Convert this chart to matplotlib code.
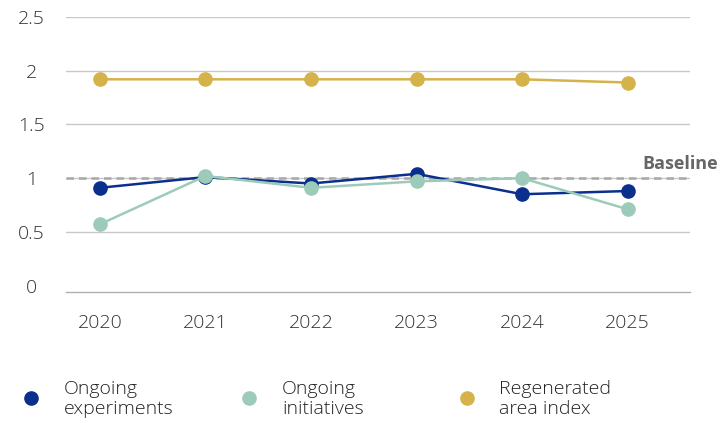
import matplotlib
matplotlib.use("Agg")
import matplotlib.pyplot as plt
from matplotlib.lines import Line2D

years = ["2020", "2021", "2022", "2023", "2024", "2025"]
experiments = [0.91, 1.01, 0.95, 1.04, 0.85, 0.88]
initiatives = [0.57, 1.02, 0.91, 0.97, 1.00, 0.71]
regenerated = [1.92, 1.92, 1.92, 1.92, 1.92, 1.89]
baseline = 1.0
yticks = [0, 0.5, 1, 1.5, 2, 2.5]
ytick_labels = ["0", "0.5", "1", "1.5", "2", "2.5"]
series_names = ["Ongoing\nexperiments", "Ongoing\ninitiatives", "Regenerated\narea index"]
colors = ["#0a2f8c", "#9dcbb9", "#d5b24a"]

plt.rcParams['font.family'] = ['Open Sans', 'DejaVu Sans']

fig = plt.figure(figsize=(7.22, 4.23), dpi=100)
ax = fig.add_axes([66/722, 1-292/423, (690-66)/722, (292-17)/423])

x = list(range(len(years)))
for yv in yticks[1:]:
    ax.axhline(yv, color="#c8c8c8", lw=1.0, zorder=1)
ax.axhline(baseline, color="#a8a8a8", lw=1.8, ls=(0, (3, 2)), zorder=2)
for vals, c in zip([regenerated, experiments, initiatives], [colors[2], colors[0], colors[1]]):
    ax.plot(x, vals, color=c, lw=1.8, marker='o', markersize=9.5, zorder=3)

ax.set_ylim(-0.06, 2.5)
ax.set_xlim(-0.32, 5.59)
ax.set_yticks(yticks)
ax.set_yticklabels(ytick_labels)
ax.set_xticks(x)
ax.set_xticklabels(years)
for s in ['top', 'left', 'right']:
    ax.spines[s].set_visible(False)
ax.spines['bottom'].set_color("#b0b0b0")
ax.spines['bottom'].set_linewidth(1.0)
ax.tick_params(axis='both', length=0, labelsize=14, colors="#333333")
ax.tick_params(axis='x', pad=16)
for lbl in ax.get_yticklabels() + ax.get_xticklabels():
    lbl.set_fontweight('light')
for lbl in ax.get_yticklabels():
    lbl.set_horizontalalignment('center')
ax.tick_params(axis='y', pad=25)

fig.text(642/722, 1-164/423, "Baseline", ha='left', va='center', fontsize=13,
         fontweight='bold', color="#666666")

leg_x_marker = [31, 249, 467]
leg_x_text = [64, 282, 499]
for xm, xt, name, c in zip(leg_x_marker, leg_x_text, series_names, colors):
    fig.add_artist(Line2D([xm/722], [1-398/423], marker='o', color=c, markersize=9.5, ls='none'))
    fig.text(xt/722, 1-399/423, name, ha='left', va='center', fontsize=14,
             fontweight='light', color="#222222", linespacing=1.1)

fig.savefig("out.png", dpi=100)
